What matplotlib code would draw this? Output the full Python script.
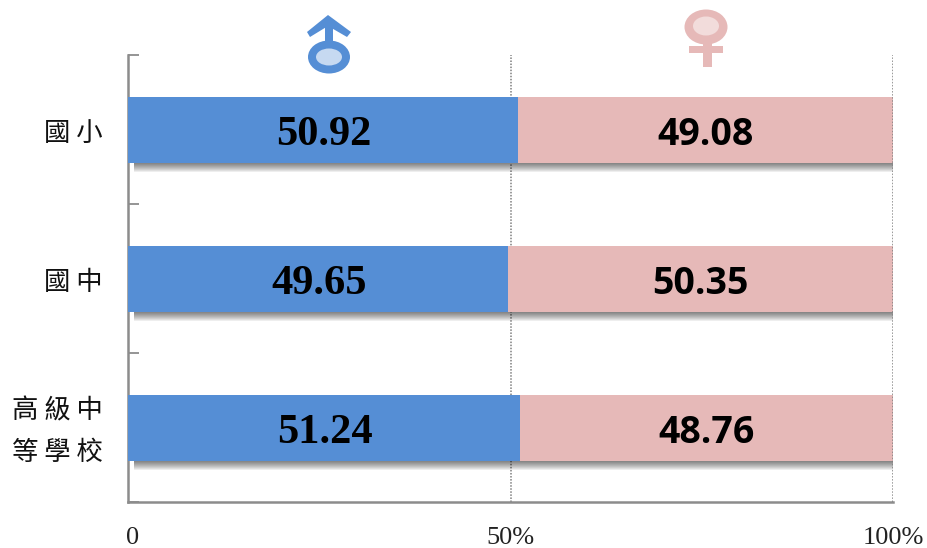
import numpy as np
import matplotlib
matplotlib.use("Agg")
import matplotlib.pyplot as plt
from matplotlib.patches import Ellipse, Rectangle, Polygon
from matplotlib.transforms import ScaledTranslation

categories = ["國小", "國中", "高級中\n等學校"]
male = [50.92, 49.65, 51.24]
female = [49.08, 50.35, 48.76]
tick_vals = [0, 50, 100]
tick_labels = ["0", "50%", "100%"]

BLUE = "#558ed5"
PINK = "#e6b9b8"
W, H = 927, 548
L, R, T, B = 128, 893, 55, 502
CJK = ["Noto Sans CJK TC", "DejaVu Sans"]
SERIF = "Liberation Serif"

fig = plt.figure(figsize=(W / 100, H / 100), dpi=100)
ax = fig.add_axes([L / W, 1 - B / H, (R - L) / W, (B - T) / H])

y = np.arange(len(categories))
bar_h = 0.443
px = 3 / (B - T)

# soft shadow under the bars
for k in range(1, 10):
    ax.barh(y + k * px, 99.2, left=0.8, height=bar_h, color="black",
            alpha=0.065, zorder=1, linewidth=0)

ax.barh(y + px / 2, male, height=bar_h, color=BLUE, zorder=2, linewidth=0)
ax.barh(y + px / 2, female, left=male, height=bar_h, color=PINK, zorder=2, linewidth=0)

for i in y:
    ax.text(male[i] / 2 + 0.1, i + 5 * px, f"{male[i]:.2f}", ha="center", va="center",
            family=SERIF, weight="bold", fontsize=30.5, color="black", zorder=4)
    ax.text(male[i] + female[i] / 2, i + 5 * px, f"{female[i]:.2f}", ha="center", va="center",
            family="Open Sans", weight="bold", fontsize=27, color="black", zorder=4)

ax.set_xlim(0, 100)
ax.set_ylim(2.5, -0.5)
ax.set_yticks([-0.5, 0.5, 1.5, 2.5])
ax.set_yticklabels([])
ax.set_xticks(tick_vals)
ax.set_xticklabels(tick_labels, family=SERIF, fontsize=19, color="#222222")
ax.tick_params(axis="x", length=0, pad=18)
ax.tick_params(axis="y", length=8, width=1.3, color="#8c8c8c", direction="in")
ax.get_xticklabels()[0].set_transform(
    ax.get_xticklabels()[0].get_transform() + ScaledTranslation(5 / 100, 0, fig.dpi_scale_trans))

for v in tick_vals[1:]:
    ax.axvline(v, color="#7f7f7f", lw=1.1, ls=(0, (1, 1)), zorder=3 if v == 100 else 0)

for s in ["top", "right"]:
    ax.spines[s].set_visible(False)
for s in ["left", "bottom"]:
    ax.spines[s].set_color("#8c8c8c")
    ax.spines[s].set_linewidth(1.8)
    ax.spines[s].set_zorder(1.5)

# category labels
for i, name in enumerate(categories):
    spaced = "\n".join(" ".join(line) for line in name.split("\n"))
    ax.text(-3.3, i + 4 * px, spaced, ha="right", va="center", family=CJK, fontsize=19,
            color="#111111", linespacing=1.68)

# gender symbols in pixel coordinates
ov = fig.add_axes([0, 0, 1, 1], facecolor="none")
ov.set_xlim(0, W)
ov.set_ylim(H, 0)
ov.axis("off")

ov.add_patch(Rectangle((325, 20), 8, 24, color=BLUE, lw=0))
ov.add_patch(Polygon([(328, 15), (351, 32), (347, 37), (328, 26), (310, 37), (307, 32)],
                     closed=True, color=BLUE, lw=0))
ov.add_patch(Ellipse((329, 57), 42, 33, color=BLUE, lw=0))
ov.add_patch(Ellipse((329, 57), 26, 17, color="#c6d9f1", lw=0))

ov.add_patch(Rectangle((703, 42), 9, 25, color=PINK, lw=0))
ov.add_patch(Rectangle((689, 46), 34, 7, color=PINK, lw=0))
ov.add_patch(Ellipse((706, 27), 43, 35, color=PINK, lw=0))
ov.add_patch(Ellipse((706, 26), 26, 19, color="#f2dcdb", lw=0))

fig.savefig("out.png", dpi=100, facecolor="white")
